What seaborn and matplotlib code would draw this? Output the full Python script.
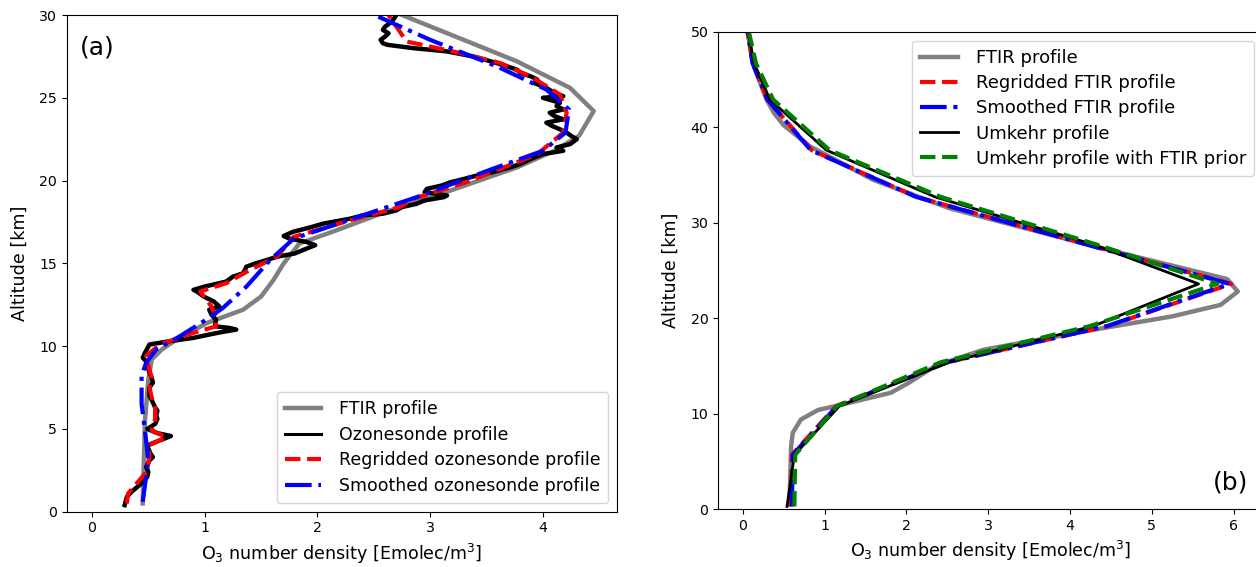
import matplotlib
matplotlib.use("Agg")
import matplotlib.pyplot as plt
import seaborn as sns
import pandas as pd

# ---------------- Panel (a): ozonesonde comparison ----------------
# FTIR retrieved profile (altitude km, density Emolec/m3)
ftir_a_alt = [0.5, 3.0, 5.5, 8.0, 9.2, 9.8, 10.4, 11.4, 12.2, 13.0, 14.0, 15.0,
              16.2, 17.0, 18.1, 19.4, 20.8, 21.8, 22.7, 24.2, 25.6, 27.2, 30.0]
ftir_a_val = [0.45, 0.46, 0.47, 0.50, 0.53, 0.62, 0.75, 1.02, 1.34, 1.50, 1.61, 1.70,
              1.84, 2.17, 2.60, 3.18, 3.77, 4.10, 4.32, 4.45, 4.24, 3.77, 2.75]

# Raw ozonesonde profile
sonde_alt = [0.4, 0.9, 1.2, 1.6, 2.1, 2.4, 2.7, 3.1, 3.3, 3.5, 3.8, 4.0, 4.25, 4.57,
             4.75, 5.0, 5.3, 5.6, 5.8, 6.1, 6.3, 6.6, 7.0, 7.5, 7.8, 8.1, 8.4, 8.8,
             9.1, 9.3, 9.6, 10.1, 10.3, 10.5, 10.7, 10.85, 11.0, 11.1, 11.2, 11.6,
             11.9, 12.2, 12.4, 12.7, 13.0, 13.3, 13.4, 13.6, 13.9, 14.2, 14.4, 14.8,
             15.0, 15.2, 15.4, 15.6, 15.8, 16.1, 16.3, 16.5, 16.65, 16.9, 17.2, 17.4,
             17.7, 17.9, 18.0, 18.2, 18.4, 18.6, 18.8, 19.0, 19.1, 19.3, 19.5, 19.7,
             19.9, 20.1, 20.3, 20.5, 20.8, 21.0, 21.3, 21.6, 21.8, 22.0, 22.2, 22.5,
             22.7, 22.9, 23.1, 23.3, 23.5, 23.7, 23.9, 24.1, 24.3, 24.5, 24.7, 24.9,
             25.0, 25.1, 25.3, 25.6, 25.9, 26.1, 26.3, 26.5, 26.7, 27.1, 27.5, 27.8,
             28.0, 28.2, 28.3, 28.5, 28.7, 28.9, 29.1, 29.3, 29.6, 30.0]
sonde_val = [0.29, 0.31, 0.35, 0.42, 0.49, 0.50, 0.48, 0.51, 0.54, 0.52, 0.50, 0.49, 0.58, 0.70,
             0.58, 0.49, 0.56, 0.58, 0.57, 0.58, 0.56, 0.54, 0.51, 0.51, 0.54, 0.53, 0.51, 0.49,
             0.48, 0.45, 0.47, 0.51, 0.69, 0.90, 1.04, 1.15, 1.28, 1.22, 1.09, 1.10,
             1.06, 1.04, 1.13, 1.08, 0.99, 0.93, 0.90, 1.00, 1.19, 1.25, 1.34, 1.37,
             1.45, 1.55, 1.64, 1.80, 1.87, 1.98, 1.90, 1.75, 1.70, 1.78, 1.95, 2.05,
             2.29, 2.40, 2.58, 2.70, 2.75, 2.88, 2.95, 3.12, 3.15, 2.95, 2.97, 3.10,
             3.18, 3.30, 3.41, 3.55, 3.71, 3.80, 3.89, 4.00, 4.18, 4.12, 4.24, 4.30,
             4.25, 4.21, 4.15, 4.08, 4.03, 4.18, 4.10, 4.06, 4.18, 4.12, 4.15, 4.05,
             4.00, 4.18, 4.10, 4.03, 3.92, 3.95, 3.89, 3.80, 3.77, 3.59, 3.38, 3.15,
             2.85, 2.62, 2.58, 2.56, 2.60, 2.63, 2.58, 2.60, 2.66, 2.70]

# Ozonesonde regridded onto the FTIR grid
regrid_a_alt = [0.5, 1.1, 2.3, 2.9, 3.5, 4.0, 4.5, 4.9, 5.6, 6.3, 6.9, 7.5, 8.1, 8.8,
                9.4, 10.1, 10.8, 11.2, 11.7, 12.4, 13.3, 13.8, 14.6, 15.4, 16.6, 17.6,
                18.4, 18.9, 19.9, 21.6, 22.9, 24.1, 25.2, 26.3, 27.1, 27.7, 28.4, 29.3, 30.0]
regrid_a_val = [0.31, 0.32, 0.47, 0.50, 0.51, 0.50, 0.66, 0.53, 0.56, 0.56, 0.53, 0.51, 0.53, 0.50,
                0.48, 0.60, 0.90, 1.10, 1.10, 1.06, 0.96, 1.19, 1.40, 1.64, 1.79, 2.29,
                2.73, 2.85, 3.32, 3.95, 4.18, 4.21, 4.15, 3.89, 3.62, 3.27, 2.79, 2.70, 2.63]

# Ozonesonde smoothed with the FTIR averaging kernels
smooth_a_alt = [0.6, 3.1, 4.9, 6.5, 8.2, 9.0, 9.8, 10.6, 11.5, 12.3, 13.6, 15.2, 16.5,
                17.3, 19.0, 20.7, 21.8, 22.9, 24.3, 25.5, 26.9, 28.5, 29.9]
smooth_a_val = [0.45, 0.50, 0.47, 0.44, 0.44, 0.48, 0.57, 0.78, 0.99, 1.16, 1.37, 1.58, 1.79,
                2.14, 2.88, 3.55, 4.00, 4.20, 4.23, 4.03, 3.59, 3.00, 2.54]

# ---------------- Panel (b): Umkehr comparison ----------------
ftir_b_alt = [0.5, 6.6, 8.0, 9.4, 10.4, 10.9, 12.2, 13.2, 15.0, 16.7, 18.8, 20.2, 21.4,
              22.8, 24.1, 27.0, 30.1, 31.5, 34.5, 38.0, 40.2, 41.5, 42.9, 46.7, 50.5]
ftir_b_val = [0.57, 0.59, 0.61, 0.71, 0.92, 1.18, 1.81, 2.02, 2.35, 2.94, 4.29, 5.25, 5.84,
              6.05, 5.92, 4.54, 3.15, 2.53, 1.59, 0.82, 0.50, 0.38, 0.29, 0.12, 0.05]

umkehr_alt = [0.3, 5.7, 10.8, 15.4, 19.2, 23.6, 27.7, 32.7, 37.6, 42.9, 46.7, 50.5]
regrid_b_val = [0.59, 0.60, 1.14, 2.50, 4.47, 5.97, 4.22, 2.12, 0.84, 0.30, 0.12, 0.05]
smooth_b_val = [0.60, 0.61, 1.15, 2.50, 4.46, 5.95, 4.21, 2.12, 0.83, 0.30, 0.12, 0.05]
umkehr_val = [0.54, 0.63, 1.18, 2.52, 4.29, 5.57, 4.29, 2.35, 1.02, 0.33, 0.14, 0.05]
umkehr_prior_val = [0.63, 0.64, 1.15, 2.42, 4.25, 5.80, 4.33, 2.42, 1.06, 0.37, 0.16, 0.06]

xlabel = "O$_3$ number density [Emolec/m$^3$]"
ylabel = "Altitude [km]"
label_fs = 12.6
tick_fs = 10.2
legend_kw = dict(handlelength=2.1, handletextpad=1.0, borderpad=0.45)

fig = plt.figure(figsize=(12.56, 5.67), dpi=100)
ax_a = fig.add_axes([0.0533, 0.0975, 0.4377, 0.876])
ax_b = fig.add_axes([0.5717, 0.1018, 0.4342, 0.8423])


def profile(ax, alt, val, **kw):
    df = pd.DataFrame({"val": val, "alt": alt})
    sns.lineplot(data=df, x="val", y="alt", sort=False, estimator=None, ax=ax, **kw)


# Panel (a)
profile(ax_a, ftir_a_alt, ftir_a_val, color="grey", lw=3.2, label="FTIR profile")
profile(ax_a, sonde_alt, sonde_val, color="black", lw=3.2, label="Ozonesonde profile")
profile(ax_a, regrid_a_alt, regrid_a_val, color="red", lw=3, linestyle="--",
        label="Regridded ozonesonde profile")
profile(ax_a, smooth_a_alt, smooth_a_val, color="blue", lw=3, linestyle="-.",
        label="Smoothed ozonesonde profile")
ax_a.set_xlim(-0.222, 4.654)
ax_a.set_ylim(0, 30)
ax_a.set_xticks([0, 1, 2, 3, 4])
ax_a.set_yticks([0, 5, 10, 15, 20, 25, 30])
ax_a.set_xlabel(xlabel, fontsize=label_fs, labelpad=5)
ax_a.set_ylabel(ylabel, fontsize=label_fs, labelpad=7.5)
ax_a.tick_params(labelsize=tick_fs)
leg_a = ax_a.legend(loc="lower right", fontsize=12.5, labelspacing=0.45, **legend_kw)
leg_a.get_lines()[1].set_linewidth(2.2)
ax_a.text(0.055, 0.935, "(a)", transform=ax_a.transAxes, fontsize=18,
          ha="center", va="center")

# Panel (b)
profile(ax_b, ftir_b_alt, ftir_b_val, color="grey", lw=3.2, label="FTIR profile")
profile(ax_b, umkehr_alt, regrid_b_val, color="red", lw=3, linestyle="--",
        label="Regridded FTIR profile")
profile(ax_b, umkehr_alt, smooth_b_val, color="blue", lw=3, linestyle="-.",
        label="Smoothed FTIR profile")
profile(ax_b, umkehr_alt, umkehr_val, color="black", lw=2, label="Umkehr profile")
profile(ax_b, umkehr_alt, umkehr_prior_val, color="green", lw=3, linestyle="--",
        label="Umkehr profile with FTIR prior")
ax_b.set_xlim(-0.303, 6.363)
ax_b.set_ylim(0, 50)
ax_b.set_xticks([0, 1, 2, 3, 4, 5, 6])
ax_b.set_yticks([0, 10, 20, 30, 40, 50])
ax_b.set_xlabel(xlabel, fontsize=label_fs, labelpad=4)
ax_b.set_ylabel(ylabel, fontsize=label_fs, labelpad=7.5)
ax_b.tick_params(labelsize=tick_fs)
ax_b.legend(loc="upper right", fontsize=13, labelspacing=0.4, **legend_kw)
ax_b.text(0.94, 0.056, "(b)", transform=ax_b.transAxes, fontsize=18,
          ha="center", va="center")

fig.savefig("out.png", dpi=100)
